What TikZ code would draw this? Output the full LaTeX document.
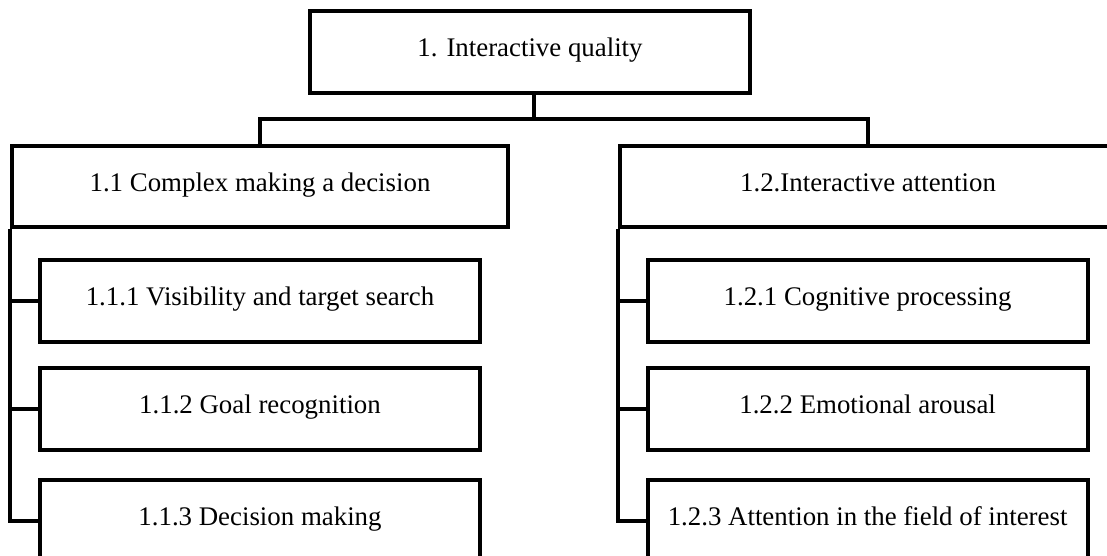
\documentclass[tikz,border=0pt]{standalone}
\usepackage{fontspec}
\setmainfont{Liberation Serif}
\definecolor{cline}{HTML}{000000}
\tikzset{
  every picture/.style={line width=2.8pt},
  box/.style={draw=cline, rectangle, align=center, inner sep=0pt, text height=0.66em, text depth=0pt, font=\fontsize{19.1}{23}\selectfont},
  link/.style={draw=cline, line width=2.8pt},
}

\begin{document}
\begin{tikzpicture}[
    head/.style={box, minimum width=11cm, minimum height=2.05cm},
    part/.style={box, minimum width=12.4cm, minimum height=2.025cm},
    item/.style={box, minimum width=11cm, minimum height=2.05cm},
  ]
  \useasboundingbox (0,0) rectangle (27.675,-13.875);
  \node[head] (iq) at (13.25,-1.3) {1. Interactive quality};
  \node[part] (cd) at (6.5,-4.6625) {1.1 Complex making a decision};
  \node[part] (ia) at (21.7,-4.6625) {1.2.Interactive attention};

  % complex making a decision
  \node[item] (vts) at (6.5,-7.52)  {1.1.1 Visibility and target search};
  \node[item] (gr)  at (6.5,-10.22) {1.1.2 Goal recognition};
  \node[item] (dm)  at (6.5,-13.02) {1.1.3 Decision making};
  % interactive attention
  \node[item] (cp)  at (21.69,-7.52)  {1.2.1 Cognitive processing};
  \node[item] (ea)  at (21.69,-10.22) {1.2.2 Emotional arousal};
  \node[item] (af)  at (21.69,-13.02) {1.2.3 Attention in the field of interest};

  \coordinate (fork) at (13.35,-2.975);
  \draw[link] (fork |- iq.south) -- (fork);
  \draw[link] (cd.north) |- (fork) -| (ia.north);
  \foreach \c in {vts, gr, dm} \draw[link] (\c.west) -| (cd.south west);
  \foreach \c in {cp, ea, af} \draw[link] (\c.west) -| (ia.south west);
\end{tikzpicture}
\end{document}
